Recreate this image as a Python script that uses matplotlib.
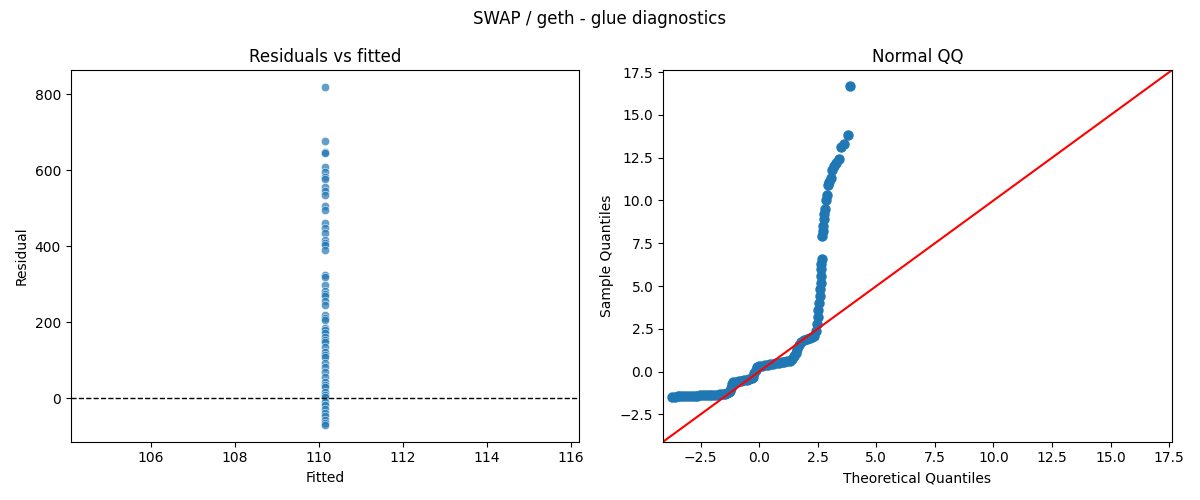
import matplotlib
matplotlib.use("Agg")
import matplotlib.pyplot as plt
import seaborn as sns
import numpy as np

# residuals vs fitted (all fitted values are the same constant)
fitted_value = 110.15
residuals = [819, 677, 649, 645, 610, 597, 583, 578, 557, 545, 535, 505, 496,
             462, 449, 436, 417, 410, 404, 391, 325, 320, 299, 282, 275, 268,
             255, 245, 220, 212, 207, 186, 180, 173, 160, 153, 147, 134, 121,
             115, 108, 94, 81, 68, 55, 42, 35, 29, 16, 8, 3, -10, -18, -29,
             -38, -46, -58, -66, -70]

# normal QQ points
theo_q = [-3.72, -3.6, -3.48, -3.36, -3.24, -3.12, -3.0, -2.88, -2.76, -2.64,
          -2.52, -2.4, -2.28, -2.16, -2.04, -1.92, -1.8, -1.68, -1.56, -1.45,
          -1.36, -1.3, -1.26,
          -1.22, -1.18, -1.12, -1.0, -0.88, -0.76, -0.64, -0.52, -0.42, -0.32,
          -0.25,
          -0.2, -0.15, -0.1, 0.0, 0.12, 0.24, 0.36, 0.48, 0.6, 0.72, 0.84,
          0.96, 1.08, 1.2, 1.32, 1.42, 1.5, 1.56, 1.62, 1.7, 1.8, 1.92, 2.04,
          2.16, 2.27, 2.35, 2.42, 2.47,
          2.5, 2.53, 2.56, 2.58, 2.6, 2.62, 2.64, 2.65, 2.66, 2.67,
          2.70, 2.72, 2.74, 2.76, 2.78, 2.82, 2.86, 2.9, 2.95, 3.0, 3.05,
          3.12, 3.2, 3.3, 3.4, 3.5, 3.6, 3.77, 3.89]
sample_q = [-1.46, -1.46, -1.45, -1.44, -1.43, -1.42, -1.41, -1.41, -1.40, -1.40,
            -1.39, -1.38, -1.38, -1.37, -1.36, -1.36, -1.35, -1.34, -1.33, -1.31,
            -1.28, -1.22, -1.12,
            -0.95, -0.72, -0.62, -0.59, -0.56, -0.54, -0.51, -0.48, -0.45, -0.40,
            -0.3,
            -0.1, 0.1, 0.25, 0.3, 0.34, 0.38, 0.41, 0.44, 0.46, 0.49, 0.51,
            0.54, 0.57, 0.6, 0.64, 0.72, 0.9, 1.1, 1.3, 1.55, 1.75, 1.84, 1.9,
            1.96, 2.02, 2.1, 2.4, 2.8,
            3.2, 3.6, 4.0, 4.4, 4.8, 5.2, 5.6, 6.0, 6.3, 6.6,
            7.9, 8.2, 8.5, 8.9, 9.2, 9.5, 10.0, 10.3, 10.9, 11.1, 11.3,
            11.8, 12.0, 12.2, 12.4, 13.1, 13.3, 13.84, 16.7]


def main():
    fig, (ax1, ax2) = plt.subplots(1, 2, figsize=(12, 5))

    sns.scatterplot(x=[fitted_value] * len(residuals), y=residuals, alpha=0.7, ax=ax1)
    ax1.axhline(0, color="black", linestyle="--", linewidth=1)
    ax1.set_title("Residuals vs fitted")
    ax1.set_xlabel("Fitted")
    ax1.set_ylabel("Residual")

    ax2.plot(theo_q, sample_q, "o", color="C0", markersize=6.5)
    x0, x1 = ax2.get_xlim()
    y0, y1 = ax2.get_ylim()
    lo = min(x0, y0)
    hi = max(x1, y1)
    ax2.plot([lo, hi], [lo, hi], color="r")
    ax2.set_xlim(lo, hi)
    ax2.set_ylim(lo, hi)
    ax2.set_title("Normal QQ")
    ax2.set_xlabel("Theoretical Quantiles")
    ax2.set_ylabel("Sample Quantiles")

    fig.suptitle("SWAP / geth - glue diagnostics")
    fig.tight_layout()
    fig.savefig("out.png", dpi=100)


if __name__ == "__main__":
    main()
